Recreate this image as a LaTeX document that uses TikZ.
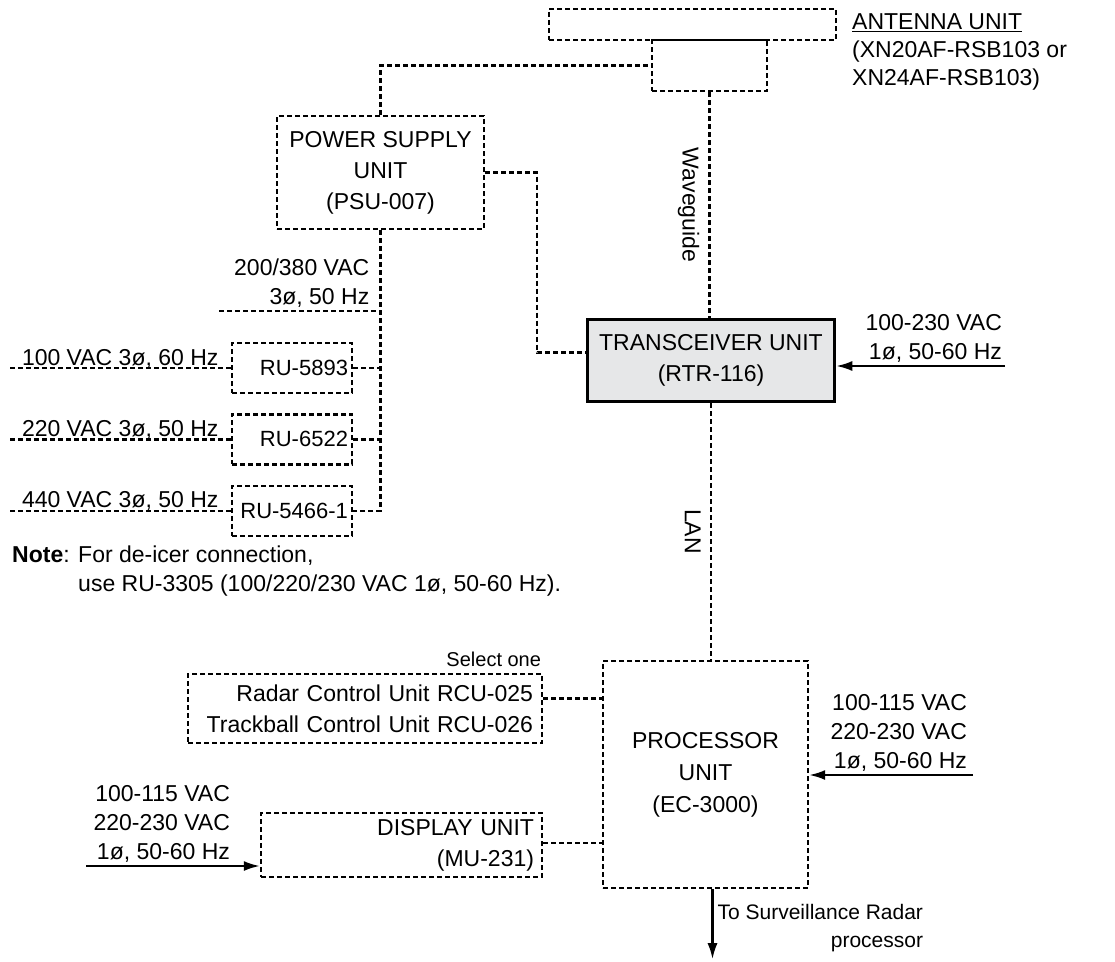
\documentclass[tikz,border=0pt]{standalone}
\usepackage{fontspec}
\setmainfont{Liberation Sans}
\usetikzlibrary{arrows.meta, positioning}
\definecolor{xcvrgray}{RGB}{230,231,232}

\begin{document}
\begin{tikzpicture}[
        x=1pt, y=1pt,
        node distance=19pt and 20pt,
        cable/.style={line width=2.4pt, dash pattern=on 5pt off 3pt},
        unitbox/.style={rectangle, draw, cable, inner sep=0pt, align=center, font=\fontsize{23}{31}\selectfont},
        rubox/.style={unitbox, minimum width=120pt, minimum height=50pt, text width=112pt, align=right, font=\fontsize{22}{26}\selectfont},
        xcvrbox/.style={rectangle, draw, line width=3.5pt, fill=xcvrgray, minimum width=247pt, minimum height=82pt, inner sep=0pt, align=center, font=\fontsize{23}{31}\selectfont},
        power/.style={line width=2.2pt, -{Latex[length=16pt, width=10pt]}},
        lbl/.style={inner sep=2pt, font=\fontsize{23}{29}\selectfont},
        vlbl/.style={rotate=-90, anchor=north, inner sep=9pt, font=\fontsize{23}{29}\selectfont}
    ]
        \useasboundingbox (0,0) rectangle (1115,-961);
        % units
        \node[unitbox, minimum width=287pt, minimum height=31pt] (ant) at (692.5,-24.5) {};
        \node[unitbox, minimum width=115pt, minimum height=51pt] (antbase) at (709.5,-65.5) {};
        \node[lbl, anchor=north west, align=left, font=\fontsize{23}{28}\selectfont] (antlbl) at (850,-11.5) {\underline{ANTENNA UNIT}\\(XN20AF-RSB103 or\\XN24AF-RSB103)};
        \node[unitbox, minimum width=207pt, minimum height=113pt] (psu) at (380.5,-172.5) {POWER SUPPLY\\UNIT\\(PSU-007)};
        \node[xcvrbox] (xcvr) at (711,-360.5) {TRANSCEIVER UNIT\\(RTR-116)};
        \node[rubox] (ru1) at (292,-368) {RU-5893};
        \node[rubox, below=of ru1] (ru2) {RU-6522};
        \node[rubox, below=of ru2] (ru3) {RU-5466-1};
        \node[lbl, anchor=north west, align=left] (note) at (10,-544) {\textbf{Note}: For de-icer connection,\\\hphantom{\textbf{Note}: }use RU-3305 (100/220/230 VAC 1ø, 50-60 Hz).};
        \node[unitbox, minimum width=354pt, minimum height=69pt, text width=336pt, align=right] (rcu) at (365,-708.5) {Radar Control Unit RCU-025\\Trackball Control Unit RCU-026};
        \node[lbl, anchor=south east, yshift=4pt, font=\fontsize{20}{24}\selectfont] (sel) at (rcu.north east) {Select one};
        \node[unitbox, minimum width=205pt, minimum height=227pt, font=\fontsize{23}{32}\selectfont] (proc) at (705.5,-774.5) {PROCESSOR\\UNIT\\(EC-3000)};
        \node[unitbox, minimum width=281pt, minimum height=64pt, text width=265pt, align=right] (disp) at (401.5,-845) {DISPLAY UNIT\\(MU-231)};
        \coordinate (mains) at (219,-311);
        \coordinate (xcvrin) at (1005,-366);
        \coordinate (procin) at (973,-775);
        \coordinate (dispin) at (86,-866);
        % cables
        \draw[cable] (psu.north) |- (antbase.west);
        \draw[cable] (antbase.south) -- (antbase.south |- xcvr.north) node[midway, vlbl] {Waveguide};
        \draw[cable] (psu.east) -- ++(52,0) |- ([yshift=8pt]xcvr.west);
        \draw[cable] (psu.south) |- (ru3.east);
        \draw[cable] (ru1.east) -- (ru1.east -| psu.south);
        \draw[cable] (ru2.east) -- (ru2.east -| psu.south);
        \draw[cable] (mains) -- (mains -| psu.south) node[lbl, anchor=south east, align=right, xshift=-8pt] {200/380 VAC\\3ø, 50 Hz};
        \draw[cable] (ru1.west) -- ++(-221,0) node[anchor=base west, inner sep=0pt, xshift=11pt, yshift=3pt, font=\fontsize{23}{29}\selectfont] {100 VAC 3ø, 60 Hz};
        \draw[cable] (ru2.west) -- ++(-221,0) node[anchor=base west, inner sep=0pt, xshift=11pt, yshift=3pt, font=\fontsize{23}{29}\selectfont] {220 VAC 3ø, 50 Hz};
        \draw[cable] (ru3.west) -- ++(-221,0) node[anchor=base west, inner sep=0pt, xshift=11pt, yshift=3pt, font=\fontsize{23}{29}\selectfont] {440 VAC 3ø, 50 Hz};
        \draw[cable] (xcvr.south) -- (xcvr.south |- proc.north) node[midway, vlbl] {LAN};
        \draw[cable] ([yshift=10pt]rcu.east) -- ([yshift=10pt]rcu.east -| proc.west);
        \draw[cable] ([yshift=2pt]disp.east) -- ([yshift=2pt]disp.east -| proc.west);
        % power inputs
        \draw[power] (xcvrin) node[lbl, anchor=south east, align=right] {100-230 VAC\\1ø, 50-60 Hz} -- (xcvrin -| xcvr.east);
        \draw[power] (procin) node[lbl, anchor=south east, align=right, xshift=-3pt] {100-115 VAC\\220-230 VAC\\1ø, 50-60 Hz} -- (procin -| proc.east);
        \draw[power] (dispin) -- (dispin -| disp.west) node[pos=0.846, lbl, anchor=south east, align=right] {100-115 VAC\\220-230 VAC\\1ø, 50-60 Hz};
        \draw[power] ([xshift=7pt]proc.south) node[lbl, anchor=north west, align=right, xshift=2pt, yshift=-12pt, font=\fontsize{21}{28}\selectfont] {To Surveillance Radar\\processor} -- ++(0,-70);
    \end{tikzpicture}
\end{document}
